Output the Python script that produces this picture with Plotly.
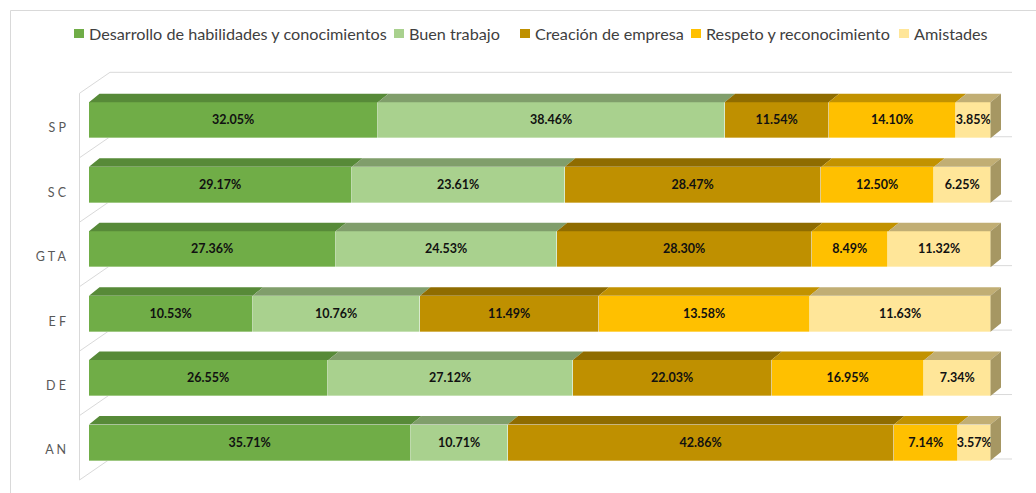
import plotly.graph_objects as go

# ---------------- data ----------------
categories = ["SP", "SC", "GTA", "EF", "DE", "AN"]
series_names = [
    "Desarrollo de habilidades y conocimientos",
    "Buen trabajo",
    "Creación de empresa",
    "Respeto y reconocimiento",
    "Amistades",
]
desarrollo = [32.05, 29.17, 27.36, 10.53, 26.55, 35.71]
buen_trabajo = [38.46, 23.61, 24.53, 10.76, 27.12, 10.71]
creacion = [11.54, 28.47, 28.30, 11.49, 22.03, 42.86]
respeto = [14.10, 12.50, 8.49, 13.58, 16.95, 7.14]
amistades = [3.85, 6.25, 11.32, 11.63, 7.34, 3.57]
series_values = [desarrollo, buen_trabajo, creacion, respeto, amistades]

# ---------------- styles ----------------
front_colors = ["#70AD47", "#A9D18E", "#BF9000", "#FFC000", "#FFE699"]
top_colors = ["#578A38", "#809E6B", "#8F6C00", "#C29200", "#C1AE74"]
side_color = "#A69763"
wall_color = "#D9D9D9"
FONT = "Lato"

W, H = 1036, 493
X0PX, XSCALE = 89.0, 9.015      # pixel of 0 %, pixels per percent
Y0PX, YSTEP = 120.3, 64.45      # pixel of first category centre, pixels per category
BAR_H = 36.0 / YSTEP
DXV = 10.5 / XSCALE             # depth offset in data units
DYV = -8.5 / YSTEP
DOM_LEFT = 70.0
LABEL_SHIFT = 7.5 / YSTEP       # category labels sit on the front wall, a bit lower

xr = [(DOM_LEFT - X0PX) / XSCALE, (W - X0PX) / XSCALE]
yr = [(H - Y0PX) / YSTEP, (0 - Y0PX) / YSTEP]   # reversed: first category on top

ypos = list(range(len(categories)))
totals = [sum(s[i] for s in series_values) for i in range(len(categories))]

fig = go.Figure()

# front faces (100 % stacked)
for name, vals, col in zip(series_names, series_values, front_colors):
    fig.add_trace(go.Bar(
        y=ypos, x=vals, name=name, orientation="h", width=BAR_H,
        marker=dict(color=col, line=dict(width=0.6, color="rgba(255,255,255,0.55)")),
        text=[f"{v:.2f}%" for v in vals], textposition="inside",
        insidetextanchor="middle", textangle=0, constraintext="none",
        textfont=dict(family=FONT, size=12.5, color="#111111", weight="bold"),
        showlegend=False, hoverinfo="name+text",
    ))

# top faces computed from the normalised stacks
cum = [0.0] * len(categories)
for k, (vals, col) in enumerate(zip(series_values, top_colors)):
    xs, ys = [], []
    for i, v in enumerate(vals):
        a = cum[i] / totals[i] * 100
        b = (cum[i] + v) / totals[i] * 100
        top = ypos[i] - BAR_H / 2
        xs += [a, b, b + DXV, a + DXV, a, None]
        ys += [top, top, top + DYV, top + DYV, top, None]
        cum[i] += v
    fig.add_trace(go.Scatter(x=xs, y=ys, mode="lines", fill="toself",
                             fillcolor=col, line=dict(width=0, color=col),
                             hoverinfo="skip", showlegend=False))

# right side faces
xs, ys = [], []
for i in range(len(categories)):
    top = ypos[i] - BAR_H / 2
    bot = ypos[i] + BAR_H / 2
    xs += [100, 100 + DXV, 100 + DXV, 100, 100, None]
    ys += [top, top + DYV, bot + DYV, bot, top, None]
fig.add_trace(go.Scatter(x=xs, y=ys, mode="lines", fill="toself",
                         fillcolor=side_color, line=dict(width=0, color=side_color),
                         hoverinfo="skip", showlegend=False))

# ---------------- decorations (walls, border, legend) ----------------
def px(x):
    return x / W


def py(y):
    return 1 - y / H


shapes = []
line = dict(color=wall_color, width=1)
# outer chart border
shapes.append(dict(type="rect", xref="paper", yref="paper", x0=px(10.5), x1=px(W + 5),
                   y0=py(H + 5), y1=py(10.5), line=line, layer="below"))
front_b = [93.3 + YSTEP * k for k in range(len(categories) + 1)]
shapes.append(dict(type="line", xref="paper", yref="paper", x0=px(79.5), x1=px(79.5),
                   y0=py(front_b[0]), y1=py(front_b[-1]), line=line, layer="below"))
for yb in front_b:
    shapes.append(dict(type="line", xref="paper", yref="paper", x0=px(79.5), x1=px(110),
                       y0=py(yb), y1=py(yb - 21), line=line, layer="below"))
    shapes.append(dict(type="line", xref="paper", yref="paper", x0=px(110), x1=px(1012),
                       y0=py(yb - 21), y1=py(yb - 21), line=line, layer="below"))

annotations = []
legend_marker_x = [74, 394, 520, 691, 899]
for name, col, mx in zip(series_names, front_colors, legend_marker_x):
    shapes.append(dict(type="rect", xref="paper", yref="paper", x0=px(mx), x1=px(mx + 10),
                       y0=py(38), y1=py(29), fillcolor=col, line=dict(width=0)))
    annotations.append(dict(text=name, xref="paper", yref="paper", x=px(mx + 12.5),
                            y=py(33.5), xanchor="left", yanchor="middle", showarrow=False,
                            font=dict(family=FONT, size=16.2, color="#404040")))

fig.update_layout(
    width=W, height=H, margin=dict(l=0, r=0, t=0, b=0),
    paper_bgcolor="white", plot_bgcolor="rgba(0,0,0,0)",
    barmode="stack", barnorm="percent", bargap=0,
    shapes=shapes, annotations=annotations, showlegend=False,
    xaxis=dict(domain=[DOM_LEFT / W, 1], range=xr, showgrid=False, zeroline=False,
               showticklabels=False, showline=False, fixedrange=True),
    yaxis=dict(domain=[0, 1], range=yr, tickmode="array",
               tickvals=[y + LABEL_SHIFT for y in ypos],
               ticktext=[" ".join(c) for c in categories], showgrid=False,
               zeroline=False, showline=False, ticks="", ticklabelstandoff=3,
               tickfont=dict(family=FONT, size=12.5, color="#595959"), fixedrange=True),
)

fig.write_html(
    "out.html",
    config={"displayModeBar": False},
    post_script="document.body.style.margin='0';document.body.style.overflow='hidden';",
)
